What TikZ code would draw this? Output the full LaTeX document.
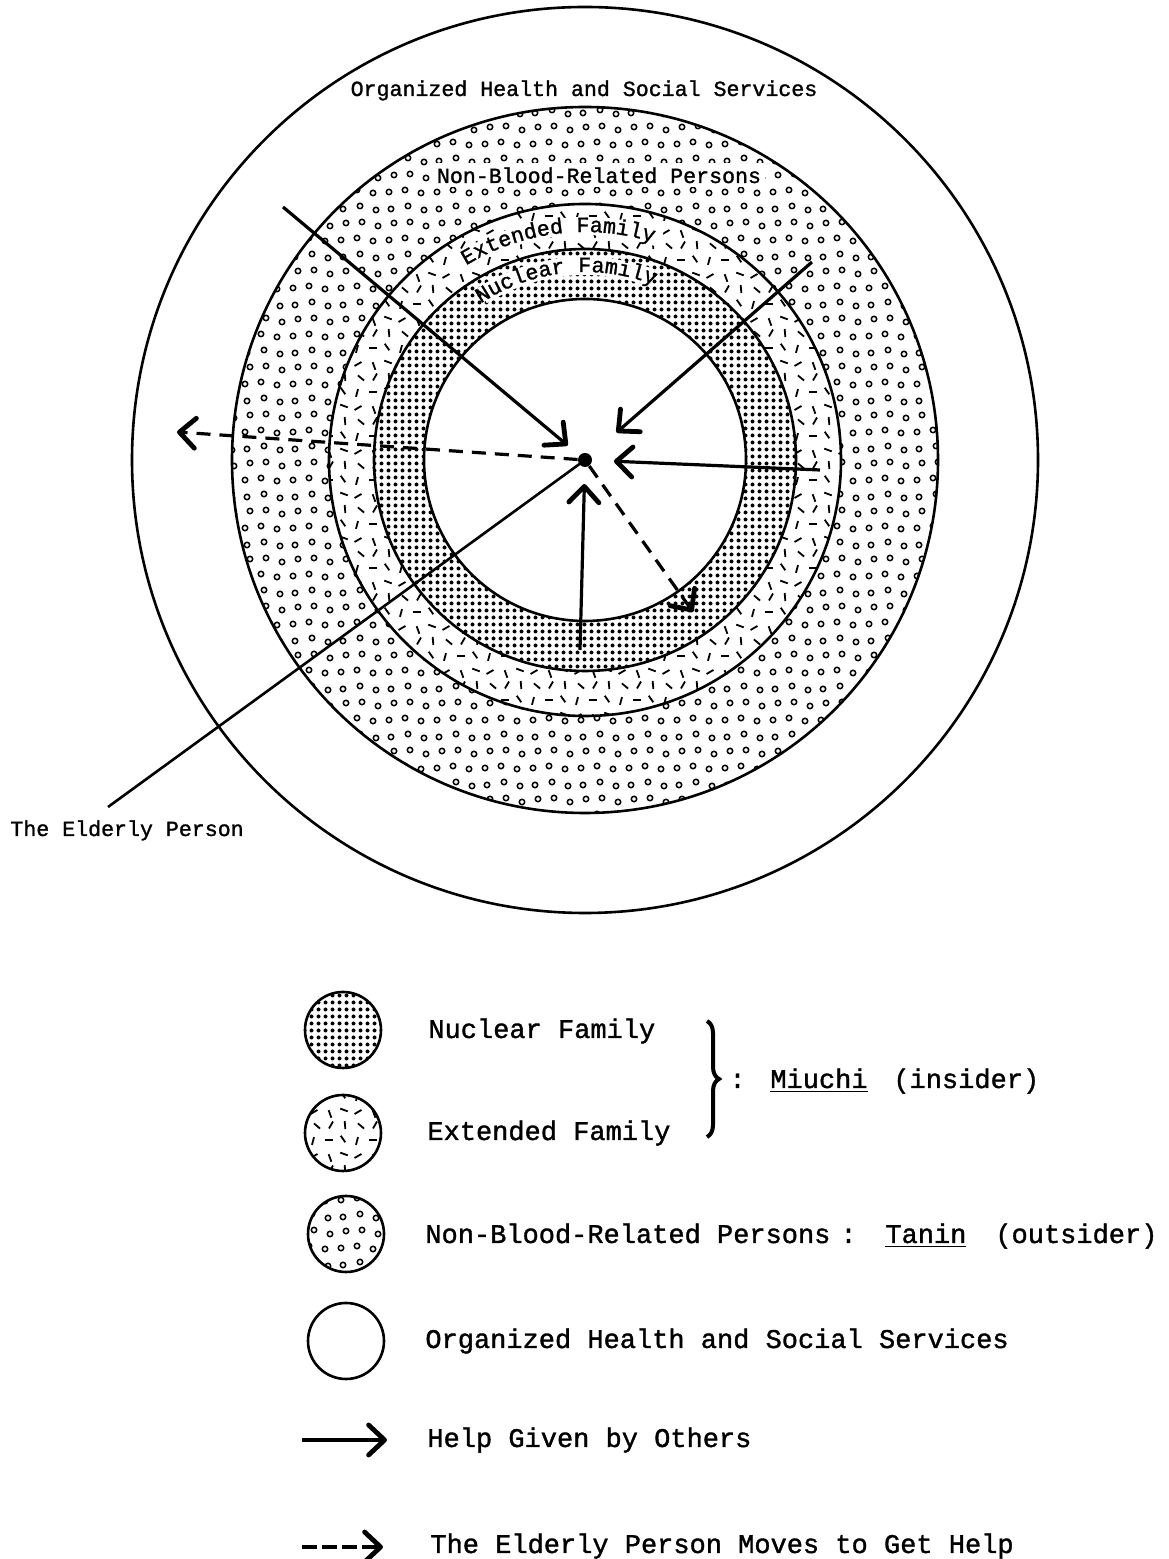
\documentclass[tikz,border=0pt]{standalone}
\usepackage{fontspec}
\setmainfont{Liberation Mono}[FakeBold=1.3]
\usetikzlibrary{patterns.meta,arrows.meta,decorations.text,decorations.pathreplacing}

\tikzdeclarepattern{
  name=nucdots,
  bottom left={(-1pt,-1pt)}, top right={(4.5pt,4.5pt)},
  tile size={(3.5pt,3.5pt)},
  code={\fill (1.75pt,1.75pt) circle[radius=1pt];}
}
\tikzdeclarepattern{
  name=extdash,
  bottom left={(-1pt,-1pt)}, top right={(23pt,23pt)},
  tile size={(22pt,22pt)},
  code={
    \foreach \px/\py/\pa in {3/3.5/30, 11/2.5/110, 18/4.5/160, 2.5/11/75, 10.5/11.5/0,
                              17.5/12/125, 4.5/18.5/140, 11.5/19/60, 18.5/19/95}{
      \draw[line width=0.9pt] (\px pt,\py pt) ++(\pa:-2pt) -- ++(\pa:4pt);
    }
  }
}
\tikzdeclarepattern{
  name=nonblood,
  bottom left={(-1pt,-1pt)}, top right={(25pt,25pt)},
  tile size={(24pt,24pt)},
  code={
    \foreach \px/\py in {3.5/3, 12/4.5, 20/2.5, 2.5/11.5, 10.5/12.5, 18.5/11, 5/20, 13/20.5, 21/18.5}{
      \draw[line width=0.75pt] (\px pt,\py pt) circle[radius=1.35pt];
    }
  }
}

\begin{document}
\begin{tikzpicture}[x=0.5pt,y=0.5pt,
  >={Straight Barb[length=8pt,width=15pt,line width=2.4pt,round]},
  ring/.style={line width=1.3pt},
  help/.style={line width=1.6pt,->},
  moves/.style={line width=1.6pt,->,dash pattern=on 7pt off 4.5pt},
  lbl/.style={inner sep=0pt,font=\fontsize{10.8}{13}\selectfont},
  leg/.style={inner sep=0pt,anchor=base west,font=\fontsize{13.5}{16}\selectfont},
  legc/.style={circle,draw,line width=1.3pt,minimum size=38pt,inner sep=0pt,preaction={fill=white}},
  curvtext/.style={decorate,decoration={text along path,text align=center,
      text={|\fontsize{10.8}{13}\selectfont|#1}}},
  clearband/.style={draw=white,line width=9pt}
]
\fill[white] (0,0) rectangle (1168,1559);
\useasboundingbox (0,0) rectangle (1168,1559);

% ---------- main rings ----------
\coordinate (C) at (585,1099);
\draw[ring] (C) circle[radius=453];
\draw[ring,preaction={fill=white},pattern=nonblood] (C) circle[radius=353];
\draw[ring,preaction={fill=white},pattern=extdash] (C) circle[radius=256];
\draw[ring,preaction={fill=white},pattern=nucdots] (C) circle[radius=211];
\draw[ring,fill=white] (C) circle[radius=161];

% ---------- ring labels ----------
\node[lbl,anchor=base] (orglbl) at (584,1463) {Organized Health and Social Services};
\node[lbl,anchor=base,fill=white,inner sep=2pt] (nblbl) at (599,1376) {Non-Blood-Related Persons};

\path (C) ++(123:234) coordinate (eb0);
\draw[clearband] (eb0) arc[start angle=123,end angle=71,radius=234];
\path (C) ++(127:228) coordinate (et0);
\path[curvtext={Extended Family}] (et0) arc[start angle=127,end angle=67,radius=228];

\path (C) ++(122:194) coordinate (nb0);
\draw[clearband] (nb0) arc[start angle=122,end angle=70,radius=194];
\path (C) ++(126:188) coordinate (nt0);
\path[curvtext={Nuclear Family}] (nt0) arc[start angle=126,end angle=66,radius=188];

% ---------- the elderly person ----------
\node[circle,fill=black,inner sep=0pt,minimum size=7pt] (dot) at (C) {};
\node[lbl,anchor=base west] (eldlbl) at (10,723) {The Elderly Person};
\coordinate (ep) at (108,752);
\draw[line width=1.3pt] (dot.center) -- (ep);

% help given by others
\coordinate (s1) at (283,1352);
\coordinate (s2) at (812,1297);
\coordinate (s3) at (820,1089);
\coordinate (s4) at (580,909);
\draw[help,shorten >=11.3pt] (s1) -- (dot.center);
\draw[help,shorten >=20.9pt] (s2) -- (dot.center);
\draw[help,shorten >=14.5pt] (s3) -- (dot.center);
\draw[help,shorten >=12pt] (s4) -- (dot.center);

% elderly person moves
\coordinate (m1) at (177,1127);
\coordinate (m2) at (693,947);
\draw[moves] (dot) -- (m1);
\draw[moves] (dot) -- (m2);

% ---------- legend ----------
\node[legc,pattern=nucdots] (lnuc) at (343,529) {};
\node[legc,pattern=extdash] (lext) at (343,426) {};
\node[legc,pattern=nonblood] (lnb) at (346,325) {};
\node[legc] (lorg) at (346,218) {};

\node[leg] (tnuc) at (428,521) {Nuclear Family};
\node[leg] (text) at (427,419) {Extended Family};
\coordinate (b0) at (707,538);
\coordinate (b1) at (707,422);
\draw[line width=2pt,decorate,decoration={brace,amplitude=6pt}] (b0) -- (b1);
\node[leg] (col1) at (729,471) {:};
\node[leg] (miu) at (770,471) {\underline{Miuchi}};
\node[leg] (ins) at (893,471) {(insider)};

\node[leg] (tnb) at (425,316) {Non-Blood-Related Persons};
\node[leg] (col2) at (840,316) {:};
\node[leg] (tan) at (885,316) {\underline{Tanin}};
\node[leg] (outs) at (995,316) {(outsider)};

\node[leg] (torg) at (425,211) {Organized Health and Social Services};

\coordinate (h0) at (302,119);
\coordinate (h1) at (387,119);
\draw[help,line width=2.2pt] (h0) -- (h1);
\node[leg] (thelp) at (427,112) {Help Given by Others};

\coordinate (g0) at (302,12);
\coordinate (g1) at (383,12);
\draw[line width=2.2pt,->,dash pattern=on 7.5pt off 2.5pt] (g0) -- (g1);
\node[leg] (tmove) at (430,6) {The Elderly Person Moves to Get Help};
\end{tikzpicture}
\end{document}
